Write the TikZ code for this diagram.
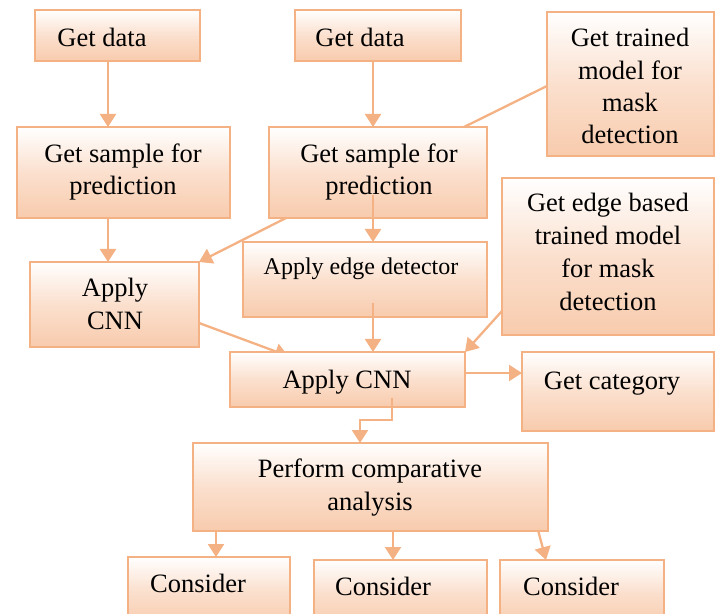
\documentclass[tikz,border=0pt]{standalone}
\usepackage{fontspec}
\setmainfont{Liberation Serif}
\usetikzlibrary{calc,arrows.meta,backgrounds}
\definecolor{bord}{HTML}{F4B183}
\definecolor{peach}{HTML}{F8CBAD}
\begin{document}
\begin{tikzpicture}[x=0.5pt,y=-0.5pt,
  box/.style={draw=bord, line width=1.4pt, top color=white, bottom color=peach, middle color=peach!60!white, inner sep=0pt, outer sep=0pt},
  arr/.style={draw=bord, line width=1.15pt, -{Triangle[length=6.5pt,width=8pt]}},
  plain/.style={draw=bord, line width=1.15pt},
  txt/.style={anchor=base, inner sep=0pt, font=\fontsize{13.25}{16}\selectfont},
  stxt/.style={anchor=base, inner sep=0pt, font=\fontsize{12}{14}\selectfont}]
\useasboundingbox (0,0) rectangle (717,614);
\clip (0,0) rectangle (717,614);
% boxes
\node[box, minimum width=82.5pt, minimum height=25.5pt] (b1) at (117.5,35.5) {};
\node[box, minimum width=83pt, minimum height=25.5pt] (b2) at (378,35.5) {};
\node[box, minimum width=83.5pt, minimum height=72pt] (b3) at (630.5,84) {};
\node[box, minimum width=106.5pt, minimum height=45.5pt] (b4) at (123.5,172.5) {};
\node[box, minimum width=109pt, minimum height=45.5pt] (b5) at (378,172.5) {};
\node[box, minimum width=84.5pt, minimum height=42.5pt] (b6) at (114.5,304.5) {};
\node[box, minimum width=122pt, minimum height=37.5pt] (b7) at (365,279.5) {};
\node[box, minimum width=106pt, minimum height=78.5pt] (b8) at (608,256.5) {};
\node[box, minimum width=117.5pt, minimum height=27.5pt] (b9) at (347.5,379.5) {};
\node[box, minimum width=96pt, minimum height=39.5pt] (b10) at (618,391.5) {};
\node[box, minimum width=177.5pt, minimum height=44pt] (b11) at (370.5,487) {};
\node[box, minimum width=81pt, minimum height=34pt] (b12) at (209,591) {};
\node[box, minimum width=86.5pt, minimum height=32.5pt] (b13) at (400.5,592.5) {};
\node[box, minimum width=82pt, minimum height=32.5pt] (b14) at (582,592.5) {};
% texts
\node[txt] (t1) at (102,47) {Get data};
\node[txt] (t2) at (360,47) {Get data};
\node[txt] (t3a) at (630,47) {Get trained};
\node[txt] (t3b) at (630,80) {model for};
\node[txt] (t3c) at (630,112) {mask};
\node[txt] (t3d) at (630,144) {detection};
\node[txt] (t4a) at (123,163) {Get sample for};
\node[txt] (t4b) at (123,195) {prediction};
\node[txt] (t5a) at (379,163) {Get sample for};
\node[txt] (t5b) at (379,195) {prediction};
\node[txt] (t6a) at (115,297) {Apply};
\node[txt] (t6b) at (115,330) {CNN};
\node[stxt] (t7) at (361,275) {Apply edge detector};
\node[txt] (t8a) at (608,212) {Get edge based};
\node[txt] (t8b) at (608,245) {trained model};
\node[txt] (t8c) at (608,278) {for mask};
\node[txt] (t8d) at (608,311) {detection};
\node[txt] (t9) at (347,388) {Apply CNN};
\node[txt] (t10) at (612,389) {Get category};
\node[txt] (t11a) at (370,477) {Perform comparative};
\node[txt] (t11b) at (370,510) {analysis};
\node[txt] (t12) at (198,592) {Consider};
\node[txt] (t13) at (383,595) {Consider};
\node[txt] (t14) at (571,595) {Consider};
% connectors
\draw[arr] ($(b1.south)+(-9.5,0)$) -- ($(b4.north)+(-15.5,0)$);
\draw[arr] ($(b2.south)+(-5,0)$) -- ($(b5.north)+(-5,0)$);
\draw[plain] ($(b3.west)+(0,2)$) -- ($(b5.north)+(86,0)$);
\draw[arr] ($(b4.south)+(-15.5,0)$) -- ($(b6.north)+(-6.5,0)$);
\draw[arr] ($(b5.south west)+(17,0)$) -- (b6.north east);
\draw[arr] ($(b5.south)+(-5,-23)$) -- ($(b7.north)+(8,0)$);
\draw[arr] ($(b7.south)+(8,-14)$) -- ($(b9.north)+(25.5,0)$);
\draw[arr] ($(b8.south west)+(0,-24)$) -- (b9.north east);
\begin{pgfonlayer}{background}
\draw[arr] ($(b6.east)+(0,18.5)$) -- ($(b9.north west)+(58,4)$);
\end{pgfonlayer}
\draw[arr] ($(b9.east)+(0,-6.5)$) -- ($(b10.west)+(0,-18.5)$);
\draw[arr] ($(b9.south)+(44.5,-9)$) |- ($(b11.north)+(-10.5,-23)$) -- ($(b11.north)+(-10.5,0)$);
\draw[arr] ($(b11.south)+(-154.5,0)$) -- ($(b12.north)+(7,0)$);
\draw[arr] ($(b11.south)+(22.5,0)$) -- ($(b13.north)+(-7.5,0)$);
\draw[arr] ($(b11.south east)+(-10,-1)$) -- ($(b14.north west)+(46,0)$);
\end{tikzpicture}
\end{document}
